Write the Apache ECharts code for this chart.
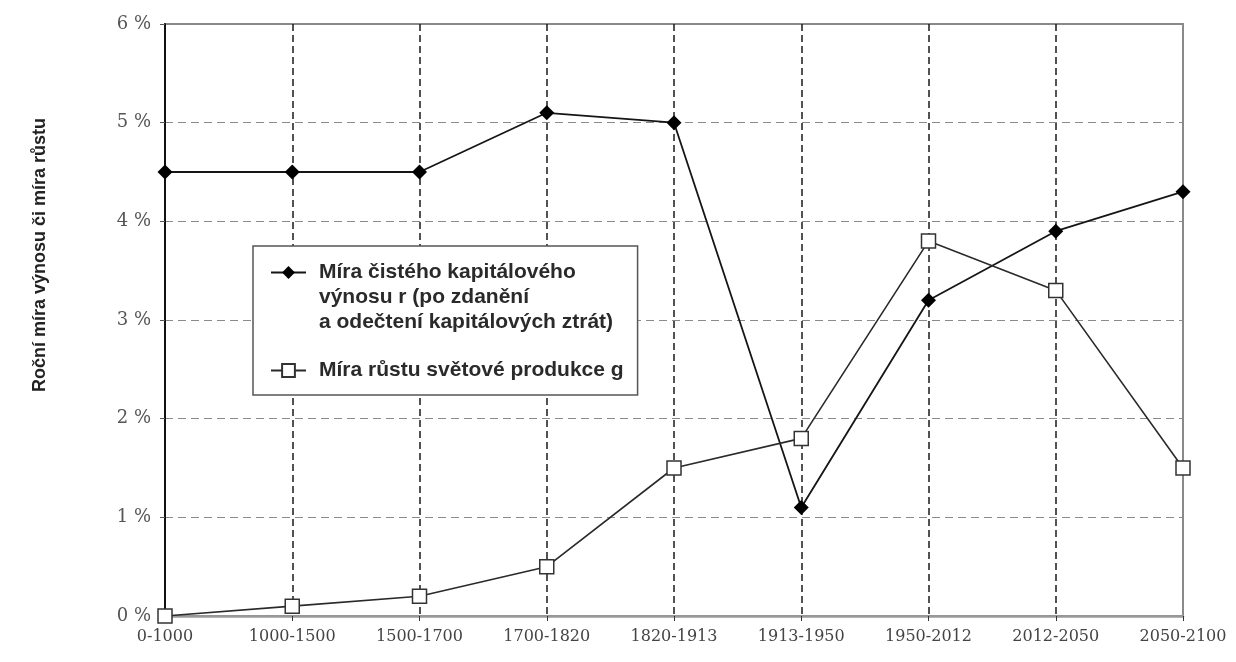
<!DOCTYPE html>
<html>
<head>
<meta charset="utf-8">
<script src="https://cdn.jsdelivr.net/npm/echarts@6/dist/echarts.min.js"></script>
<style>
  html, body { margin: 0; padding: 0; background: #fff; }
  #chart { width: 1236px; height: 662px; }
</style>
</head>
<body>
<div id="chart"></div>
<script>
const categories = ['0-1000', '1000-1500', '1500-1700', '1700-1820', '1820-1913', '1913-1950', '1950-2012', '2012-2050', '2050-2100']
const rValues = [4.5, 4.5, 4.5, 5.1, 5.0, 1.1, 3.2, 3.9, 4.3]
const gValues = [0.0, 0.1, 0.2, 0.5, 1.5, 1.8, 3.8, 3.3, 1.5]
const yMin = 0
const yMax = 6
const yStep = 1

const rName = 'Míra čistého kapitálového\nvýnosu r (po zdanění\na odečtení kapitálových ztrát)'
const gName = 'Míra růstu světové produkce g'
const yTitle = 'Roční míra výnosu či míra růstu'

const sans = '"Liberation Sans", Arial, sans-serif'
const serif = '"DejaVu Serif", "Liberation Serif", serif'

const chart = echarts.init(document.getElementById('chart'))
chart.setOption({
  backgroundColor: '#fff',
  animation: false,
  grid: {
    left: 165,
    right: 53,
    top: 24,
    bottom: 46,
    show: true,
    borderColor: '#8a8a8a',
    borderWidth: 2
  },
  legend: {
    orient: 'vertical',
    left: 253,
    top: 246,
    padding: [-36, 14, 12, 17],
    itemGap: 23,
    itemWidth: 35,
    itemHeight: 16,
    backgroundColor: '#fff',
    borderColor: '#555',
    borderWidth: 1.5,
    data: [rName, gName],
    formatter: name => (name === rName ? '\n\n' + name : name),
    textStyle: {
      fontFamily: sans,
      fontSize: 21,
      fontWeight: 'bold',
      lineHeight: 25,
      color: '#2a2a2a',
      padding: [0, 0, 0, 8]
    }
  },
  graphic: [
    {
      type: 'text',
      x: 40,
      y: 255,
      rotation: Math.PI / 2,
      style: {
        text: yTitle,
        font: 'bold 18px ' + sans,
        fill: '#222',
        align: 'center',
        verticalAlign: 'middle'
      }
    }
  ],
  xAxis: {
    type: 'category',
    data: categories,
    boundaryGap: false,
    axisLine: { lineStyle: { color: '#9a9a9a', width: 2.5 } },
    axisTick: { show: true, length: 5, lineStyle: { color: '#333' } },
    axisLabel: {
      interval: 0,
      margin: 13,
      fontFamily: serif,
      fontSize: 16,
      color: '#444'
    },
    splitLine: {
      show: true,
      interval: i => i > 0 && i < categories.length - 1,
      lineStyle: { color: '#1a1a1a', width: 1.5, type: [7, 4] }
    }
  },
  yAxis: {
    type: 'value',
    min: yMin,
    max: yMax,
    interval: yStep,
    axisLine: { show: true, lineStyle: { color: '#111', width: 2 } },
    axisTick: { show: true, length: 5, lineStyle: { color: '#555' } },
    axisLabel: {
      formatter: '{value} %',
      margin: 14,
      fontFamily: serif,
      fontSize: 18,
      color: '#555'
    },
    splitLine: {
      show: true,
      lineStyle: { color: '#8a8a8a', width: 1.2, type: [8, 5] }
    }
  },
  series: [
    {
      name: rName,
      type: 'line',
      data: rValues,
      symbol: 'diamond',
      symbolSize: 15,
      z: 3,
      lineStyle: { color: '#151515', width: 1.8 },
      itemStyle: { color: '#000' }
    },
    {
      name: gName,
      type: 'line',
      data: gValues,
      symbol: 'rect',
      symbolSize: 14,
      z: 4,
      lineStyle: { color: '#2a2a2a', width: 1.6 },
      itemStyle: { color: '#fff', borderColor: '#333', borderWidth: 1.5 }
    }
  ]
})
</script>
</body>
</html>
